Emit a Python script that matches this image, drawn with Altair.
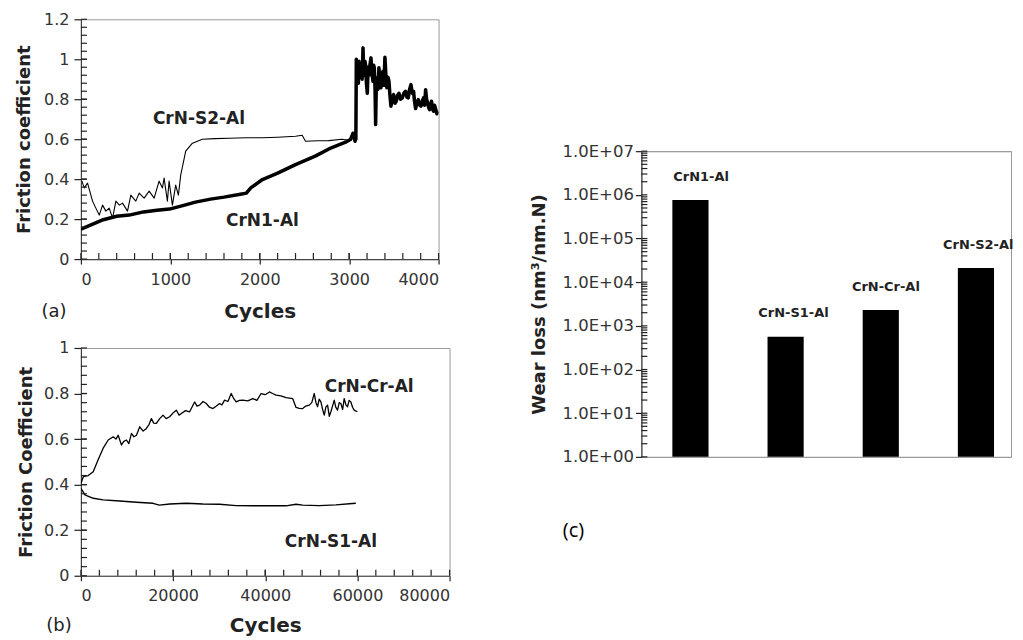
import altair as alt
import pandas as pd

FONT = "DejaVu Sans"
INK = "#222"
FRAME = "#9a9a9a"

# ---------------- data ----------------
# Panel (a): friction coefficient vs cycles
a_crn1_al = [
    (0, 0.15), (100, 0.169), (250, 0.197), (400, 0.214), (540, 0.22), (700, 0.236),
    (850, 0.244), (990, 0.25), (1150, 0.269), (1280, 0.285), (1450, 0.30), (1600, 0.31),
    (1800, 0.326), (1850, 0.33), (1900, 0.356), (2030, 0.398), (2200, 0.43), (2400, 0.473),
    (2620, 0.515), (2800, 0.557), (2960, 0.585), (3017, 0.60), (3043, 0.63), (3065, 0.59),
    (3075, 0.60), (3080, 1.0), (3088, 0.93), (3095, 0.96), (3103, 0.88), (3110, 0.99),
    (3118, 0.92), (3128, 0.91), (3136, 0.98), (3145, 0.90), (3155, 1.057), (3162, 0.94),
    (3170, 0.92), (3177, 0.99), (3184, 0.97), (3193, 0.88), (3203, 0.83), (3212, 0.96),
    (3221, 0.92), (3232, 0.97), (3244, 1.007), (3255, 0.93), (3266, 0.89), (3274, 0.97),
    (3281, 0.957), (3289, 0.86), (3296, 0.673), (3304, 0.88), (3311, 0.907), (3322, 0.85),
    (3333, 0.957), (3344, 0.89), (3355, 0.857), (3366, 0.92), (3378, 0.94), (3389, 0.87),
    (3400, 1.01), (3411, 0.92), (3422, 0.857), (3434, 0.91), (3445, 0.89), (3456, 0.82),
    (3467, 0.765), (3482, 0.80), (3497, 0.823), (3512, 0.78), (3527, 0.79), (3542, 0.82),
    (3557, 0.83), (3575, 0.80), (3594, 0.807), (3612, 0.83), (3631, 0.84), (3646, 0.81),
    (3661, 0.807), (3676, 0.85), (3691, 0.873), (3706, 0.83), (3720, 0.84), (3731, 0.79),
    (3743, 0.753), (3758, 0.78), (3773, 0.798), (3788, 0.77), (3802, 0.765), (3817, 0.79),
    (3832, 0.807), (3844, 0.77), (3855, 0.848), (3866, 0.80), (3877, 0.782), (3888, 0.76),
    (3899, 0.748), (3910, 0.77), (3921, 0.79), (3932, 0.75), (3944, 0.74), (3955, 0.77),
    (3966, 0.753), (3974, 0.74), (3981, 0.727), (3990, 0.74),
]
a_crn_s2_al = [
    (11, 0.39), (37, 0.356), (74, 0.38), (130, 0.29), (167, 0.255), (205, 0.22),
    (242, 0.27), (279, 0.24), (316, 0.255), (354, 0.205), (391, 0.29), (430, 0.27),
    (465, 0.28), (521, 0.24), (558, 0.32), (614, 0.29), (651, 0.33), (707, 0.305),
    (763, 0.34), (819, 0.305), (874, 0.39), (912, 0.356), (930, 0.405), (967, 0.29),
    (986, 0.39), (1023, 0.27), (1060, 0.37), (1090, 0.32), (1116, 0.42), (1172, 0.54),
    (1247, 0.58), (1358, 0.60), (1500, 0.603), (1656, 0.605), (1850, 0.607), (2028, 0.607),
    (2200, 0.61), (2400, 0.615), (2474, 0.62), (2512, 0.59), (2650, 0.592), (2772, 0.593),
    (2921, 0.60), (2995, 0.595), (3030, 0.595),
]
a_labels = [("CrN-S2-Al", 1320, 0.70), ("CrN1-Al", 2030, 0.19)]

# Panel (b)
b_crn_cr_al = [
    (0, 0.405), (505, 0.435), (1587, 0.44), (2670, 0.457), (3750, 0.51), (4830, 0.56),
    (5920, 0.596), (7000, 0.61), (7600, 0.60), (8080, 0.617), (8800, 0.574), (9300, 0.59),
    (9880, 0.596), (10400, 0.58), (10970, 0.625), (11500, 0.61), (12050, 0.617),
    (12770, 0.654), (13500, 0.635), (14210, 0.647), (14800, 0.665), (15290, 0.69),
    (15800, 0.67), (16380, 0.669), (17100, 0.69), (17820, 0.705), (18500, 0.69),
    (19260, 0.698), (20000, 0.715), (20700, 0.727), (21300, 0.705), (21790, 0.712),
    (22700, 0.725), (23590, 0.72), (24670, 0.763), (25200, 0.745), (25750, 0.749),
    (26500, 0.765), (27200, 0.756), (27900, 0.74), (28640, 0.734), (29400, 0.745),
    (30080, 0.756), (30600, 0.75), (31170, 0.771), (31900, 0.765), (32610, 0.80),
    (33100, 0.78), (33690, 0.763), (34400, 0.77), (35130, 0.771), (36200, 0.768),
    (37300, 0.778), (38200, 0.77), (39100, 0.80), (40000, 0.795), (40900, 0.807),
    (41600, 0.80), (42350, 0.793), (43400, 0.79), (44510, 0.782), (45950, 0.778),
    (46680, 0.739), (47400, 0.735), (48120, 0.734), (48800, 0.745), (49560, 0.749),
    (50100, 0.76), (50640, 0.80), (51000, 0.76), (51360, 0.742), (51700, 0.775),
    (52080, 0.763), (52450, 0.73), (52810, 0.705), (53150, 0.74), (53530, 0.749),
    (53900, 0.70), (54250, 0.72), (54600, 0.745), (54970, 0.771), (55300, 0.74),
    (55690, 0.727), (56050, 0.76), (56410, 0.756), (56800, 0.73), (57130, 0.778),
    (57500, 0.75), (57860, 0.742), (58200, 0.77), (58580, 0.763), (58950, 0.74),
    (59300, 0.727), (60000, 0.72),
]
b_crn_s1_al = [
    (0, 0.384), (870, 0.355), (2670, 0.34), (4830, 0.333), (8440, 0.328), (12050, 0.323),
    (15650, 0.318), (17000, 0.31), (19260, 0.315), (22870, 0.318), (26470, 0.315),
    (30080, 0.314), (33690, 0.308), (37300, 0.307), (40900, 0.307), (44510, 0.307),
    (46680, 0.314), (48120, 0.31), (51730, 0.308), (55330, 0.311), (58940, 0.317),
    (59660, 0.318),
]
b_labels = [("CrN-Cr-Al", 62550, 0.83), ("CrN-S1-Al", 54250, 0.15)]

# Panel (c)
c_coatings = ["CrN1-Al", "CrN-S1-Al", "CrN-Cr-Al", "CrN-S2-Al"]
c_wear_loss = [7.6e5, 5.6e2, 2.3e3, 2.1e4]

# axis tick positions
a_x_major = [0, 1000, 2000, 3000, 4000]
a_y_major = [0, 0.2, 0.4, 0.6, 0.8, 1.0, 1.2]
a_x_minor = [200 * i for i in range(1, 20)]
a_y_minor = [round(0.04 * i, 2) for i in range(1, 30)]
b_x_major = [0, 20000, 40000, 60000, 80000]
b_y_major = [0, 0.2, 0.4, 0.6, 0.8, 1.0]
b_x_minor = [4000 * i for i in range(1, 20)]
b_y_minor = [round(0.04 * i, 2) for i in range(1, 25)]
c_y_major = [1, 10, 100, 1e3, 1e4, 1e5, 1e6, 1e7]
c_y_minor = [k * 10 ** e for e in range(0, 7) for k in range(2, 10)]

AXIS_COMMON = dict(labelFont=FONT, labelColor="#333", titleFont=FONT, titleFontWeight="bold",
                   titleColor=INK, domainColor="#444", domainWidth=1.2, tickColor=INK,
                   tickWidth=1.2, grid=False)
TICK_W = 1.2
TICK_LEN = 6  # px, inward minor ticks


def series_df(pairs):
    return pd.DataFrame({"cycles": [p[0] for p in pairs], "cof": [p[1] for p in pairs]})


def line_panel(series, labels, x_dom, y_dom, x_major, y_major, x_minor, y_minor,
               w, h, ytitle, tag, tag_xy, ytitle_pad, xtitle_pad):
    xs = alt.Scale(domain=x_dom, nice=False, zero=False)
    ys = alt.Scale(domain=y_dom, nice=False, zero=False)
    xax = alt.Axis(values=x_major, format="d", title="Cycles", tickSize=5, labelPadding=7,
                   titlePadding=xtitle_pad, titleFontSize=20, labelFontSize=16, **AXIS_COMMON)
    yax = alt.Axis(values=y_major, format="~g", title=ytitle, tickSize=7, labelPadding=5,
                   titlePadding=ytitle_pad, titleFontSize=18, labelFontSize=16, **AXIS_COMMON)
    X = lambda: alt.X("cycles:Q", scale=xs, axis=xax)
    Y = lambda: alt.Y("cof:Q", scale=ys, axis=yax)
    layers = []
    for pairs, sw in series:
        layers.append(alt.Chart(series_df(pairs)).mark_line(
            color="black", strokeWidth=sw, strokeJoin="round", clip=True).encode(x=X(), y=Y()))
    ldf = pd.DataFrame({"label": [l[0] for l in labels], "cycles": [l[1] for l in labels],
                        "cof": [l[2] for l in labels]})
    layers.append(alt.Chart(ldf).mark_text(font=FONT, fontSize=17, fontWeight="bold", color=INK).encode(
        x=X(), y=Y(), text="label:N"))
    # inward ticks on the y axis (all positions as fields)
    dx = TICK_LEN * (x_dom[1] - x_dom[0]) / w
    ydf = pd.DataFrame({"cof": y_minor + y_major})
    ydf["cycles"] = x_dom[0]
    ydf["cycles_end"] = x_dom[0] + dx
    layers.append(alt.Chart(ydf).mark_rule(color=INK, strokeWidth=TICK_W).encode(
        y=Y(), x=X(), x2=alt.X2("cycles_end:Q")))
    # inward ticks on the x axis
    dy = TICK_LEN * (y_dom[1] - y_dom[0]) / h
    xdf = pd.DataFrame({"cycles": x_minor + x_major})
    xdf["cof"] = y_dom[0]
    xdf["cof_end"] = y_dom[0] + dy
    layers.append(alt.Chart(xdf).mark_rule(color=INK, strokeWidth=TICK_W).encode(
        x=X(), y=Y(), y2=alt.Y2("cof_end:Q")))
    layers.append(alt.Chart(pd.DataFrame({"t": [tag]})).mark_text(
        font=FONT, fontSize=18, color=INK, baseline="middle", align="center").encode(
        x=alt.value(tag_xy[0]), y=alt.value(tag_xy[1]), text="t:N"))
    return alt.layer(*layers).properties(width=w, height=h)


chart_a = line_panel(
    [(a_crn1_al, 3.5), (a_crn_s2_al, 1.1)], a_labels,
    [0, 4000], [0, 1.2], a_x_major, a_y_major, a_x_minor, a_y_minor,
    358, 240, "Friction coefficient", "(a)", (-27, 293), 10, 14)

chart_b = line_panel(
    [(b_crn_cr_al, 1.3), (b_crn_s1_al, 1.4)], b_labels,
    [0, 80000], [0, 1], b_x_major, b_y_major, b_x_minor, b_y_minor,
    369, 228, "Friction Coefficient", "(b)", (-22, 278), 8, 12)

# ---------------- panel (c) ----------------
CW, CH = 370, 306
cdf = pd.DataFrame({"coating": c_coatings, "wear": c_wear_loss})
cxs = alt.Scale(paddingInner=0.62, paddingOuter=0.252, align=0.646)
cxax = alt.Axis(labels=False, ticks=False, title=None, domainColor=FRAME, domainWidth=1)
cys = alt.Scale(type="log", domain=[1, 1e7], nice=False)
cyax = alt.Axis(values=c_y_major, labelExpr="'1.0E+0' + round(log(datum.value) / LN10)",
                title="Wear loss (nm³/nm.N)", tickSize=6, labelPadding=2, titlePadding=13,
                titleFontSize=18, labelFontSize=16.5, **AXIS_COMMON)
CX = lambda: alt.X("coating:N", sort=c_coatings, scale=cxs, axis=cxax)
CY = lambda: alt.Y("wear:Q", scale=cys, axis=cyax)
bars = alt.Chart(cdf).mark_bar(color="black").encode(x=CX(), y=CY(), y2=alt.datum(1))
bar_txt = alt.Chart(cdf).mark_text(font=FONT, fontSize=13, fontWeight="bold", color=INK, dy=-23.5).encode(
    x=CX(), y=CY(), text="coating:N")
ctdf = pd.DataFrame({"wear": c_y_minor + c_y_major})
ctdf["px"] = 0
ctdf["px_end"] = TICK_LEN
c_minor = alt.Chart(ctdf).mark_rule(color=INK, strokeWidth=TICK_W).encode(
    y=CY(),
    x=alt.X("px:Q", scale=alt.Scale(domain=[0, CW], nice=False, zero=False), axis=None),
    x2=alt.X2("px_end:Q"))
c_tag = alt.Chart(pd.DataFrame({"t": ["(c)"]})).mark_text(
    font="Open Sans", fontSize=20, color="black", align="center", baseline="middle").encode(
    x=alt.value(-68), y=alt.value(CH + 74), text="t:N")
chart_c = alt.layer(bars, bar_txt, c_minor, c_tag).resolve_scale(x="independent").properties(
    width=CW, height=CH)

spacer = alt.Chart(pd.DataFrame({"v": [0]})).mark_point(opacity=0).encode(
    x=alt.value(0), y=alt.value(0)).properties(width=1, height=123,
                                               view=alt.ViewBackground(strokeOpacity=0))

left = alt.concat(chart_a, chart_b, columns=1, spacing=17, align="none")
right = alt.vconcat(spacer, chart_c, spacing=0)
chart = alt.hconcat(left, right, spacing=79).properties(
    padding={"left": 7, "top": 2, "right": 0, "bottom": 0}, background="white"
).configure_view(stroke=FRAME, strokeWidth=1)

chart.save("out.html", embed_options={"renderer": "svg", "actions": False})
